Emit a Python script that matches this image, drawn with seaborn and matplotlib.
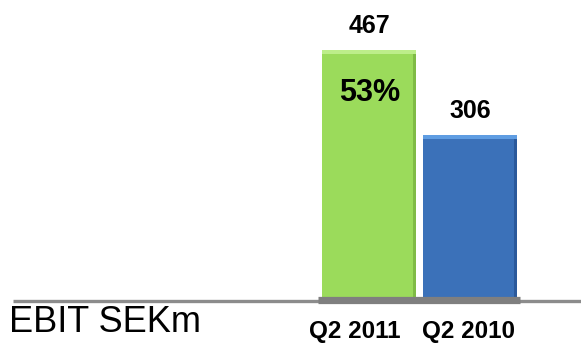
import matplotlib
matplotlib.use("Agg")
import matplotlib.pyplot as plt
import matplotlib.transforms as mtransforms
from matplotlib.patches import Rectangle
import seaborn as sns
import pandas as pd

# ---- data ----
quarters = ["Q2 2011", "Q2 2010"]
ebit = [467, 306]
bar_colors = ["#9BDB5B", "#3B71B9"]
highlight_colors = ["#BDEE8A", "#5F9DE2"]
shadow_colors = ["#78B440", "#285494"]
growth_label = f"{round((ebit[0] - ebit[1]) / ebit[1] * 100):d}%"
unit_label = "EBIT SEKm"

sns.set_theme(style="white")
plt.rcParams["font.family"] = ["Liberation Sans", "DejaVu Sans"]

df = pd.DataFrame({"quarter": quarters, "ebit": ebit})

fig = plt.figure(figsize=(5.81, 3.45), dpi=100)
ax = fig.add_axes([0, 35 / 345, 1, 310 / 345])

sns.barplot(data=df, x="quarter", y="ebit", hue="quarter", palette=bar_colors,
            width=0.935, saturation=1, legend=False, ax=ax, edgecolor="none")

ax.set_xlim(-3.667, 2.102)
ax.set_ylim(-24.6, 561.5)

# bevel effect derived from each bar's geometry
px_x = 1 / 100.7   # data units per pixel (x)
px_y = 1 / 0.5289  # data units per pixel (y)
patches = [p for cont in ax.containers for p in cont.patches]
for i, patch in enumerate(patches):
    x0, w, h = patch.get_x(), patch.get_width(), patch.get_height()
    ax.add_patch(Rectangle((x0, h - 4 * px_y), w, 4 * px_y,
                           color=highlight_colors[i], lw=0, zorder=patch.get_zorder() + 0.1))
    ax.add_patch(Rectangle((x0 + w - 3 * px_x, 0), 3 * px_x, h - 4 * px_y,
                           color=shadow_colors[i], lw=0, alpha=0.8,
                           zorder=patch.get_zorder() + 0.1))

# baseline lines
ax.hlines(-7.0, -3.538, 2.102, color="#8C8C8C", linewidth=2.4, zorder=1, clip_on=False)
ax.hlines(-6.6, -0.509, 1.497, color="#7F7F7F", linewidth=5.2, zorder=2)

for spine in ax.spines.values():
    spine.set_visible(False)
ax.set_yticks([])
ax.set_xlabel("")
ax.set_ylabel("")
ax.set_xticks([0, 1])
ax.set_xticklabels(quarters, fontsize=17.5, fontweight="bold", color="black")
ax.tick_params(axis="x", length=0, pad=7)
for lbl, dx in zip(ax.get_xticklabels(), [-15, -2]):
    off = mtransforms.ScaledTranslation(dx / 100, 0, fig.dpi_scale_trans)
    lbl.set_transform(lbl.get_transform() + off)

# value labels
for cont in ax.containers:
    ax.bar_label(cont, fmt="%d", padding=8.5, fontsize=18, fontweight="bold", color="black")

# growth label inside first bar
ax.annotate(growth_label, xy=(0, ebit[0]), xytext=(0, -31), textcoords="offset points",
            ha="center", va="center", fontsize=22, fontweight="bold", color="black")

fig.text(9 / 581, 23 / 345, unit_label, fontsize=26, ha="left", va="center", color="black")

fig.savefig("out.png", dpi=100, facecolor="white")
